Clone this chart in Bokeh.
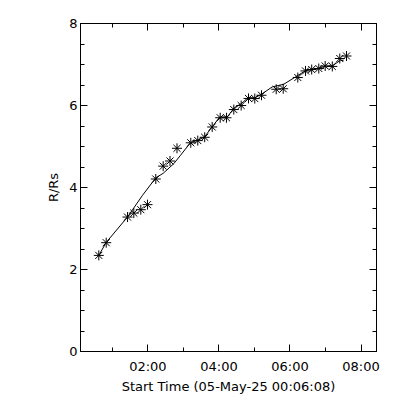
from bokeh.plotting import figure
from bokeh.models import Range1d, LinearAxis, FixedTicker
from bokeh.embed import file_html
from bokeh.resources import INLINE

# Time in hours (from 00:00 of 05-May-25); start time 00:06:08
time_h = [0.617, 0.826, 1.425, 1.603, 1.800, 1.988, 2.222, 2.430, 2.622, 2.819,
          3.207, 3.404, 3.599, 3.810, 4.035, 4.212, 4.418, 4.626, 4.832, 5.009,
          5.198, 5.612, 5.809, 6.220, 6.437, 6.611, 6.811, 6.991, 7.191, 7.402, 7.591]
r_rs = [2.344, 2.654, 3.279, 3.376, 3.459, 3.582, 4.207, 4.521, 4.646, 4.956,
        5.090, 5.144, 5.225, 5.476, 5.701, 5.701, 5.901, 5.999, 6.172, 6.169,
        6.250, 6.396, 6.409, 6.682, 6.843, 6.877, 6.902, 6.963, 6.953, 7.146, 7.207]

# Smoothed curve
fit_t = [0.617, 0.826, 1.425, 1.848, 2.222, 2.430, 2.729, 2.918, 3.199, 3.404,
         3.593, 3.810, 4.024, 4.232, 4.438, 4.626, 4.818, 5.009, 5.198, 5.499,
         5.826, 6.155, 6.437, 6.605, 6.802, 7.000, 7.197, 7.422, 7.506]
fit_r = [2.344, 2.661, 3.279, 3.809, 4.236, 4.346, 4.582, 4.785, 5.095, 5.151,
         5.232, 5.481, 5.720, 5.720, 5.950, 6.042, 6.189, 6.189, 6.274, 6.453,
         6.519, 6.697, 6.848, 6.885, 6.909, 6.958, 6.970, 7.104, 7.092]

x_ticks = [2, 4, 6, 8]
x_tick_labels = {2: "02:00", 4: "04:00", 6: "06:00", 8: "08:00"}
x_minor = [1, 2, 3, 4, 5, 6, 7, 8]
y_ticks = [0, 2, 4, 6, 8]
y_minor = [i * 0.5 for i in range(17)]

x_start = 0.1022
x_end = 0.1022 + 30000 / 3600.0

FONT = "DejaVu Sans"
FS = "13px"

p = figure(frame_width=296, frame_height=328,
           min_border_left=80, min_border_right=16,
           min_border_top=23, min_border_bottom=41,
           x_range=Range1d(x_start, x_end), y_range=Range1d(0, 8),
           output_backend="svg", toolbar_location=None,
           background_fill_color="white", border_fill_color="white")
p.xgrid.visible = False
p.ygrid.visible = False
p.outline_line_color = "black"

def style(ax, ticks, minor):
    ax.ticker = FixedTicker(ticks=ticks, minor_ticks=minor)
    ax.axis_line_color = "black"
    ax.major_tick_line_color = "black"
    ax.minor_tick_line_color = "black"
    ax.major_tick_in = 7
    ax.major_tick_out = 0
    ax.minor_tick_in = 4
    ax.minor_tick_out = 0
    ax.major_label_text_font = FONT
    ax.major_label_text_font_size = FS
    ax.major_label_text_color = "black"
    ax.axis_label_text_font = FONT
    ax.axis_label_text_font_size = FS
    ax.axis_label_text_font_style = "normal"
    ax.axis_label_text_color = "black"

xa = p.xaxis[0]
style(xa, x_ticks, x_minor)
xa.major_label_overrides = x_tick_labels
xa.axis_label = "Start Time (05-May-25 00:06:08)"
xa.major_label_standoff = 7
xa.axis_label_standoff = 2

ya = p.yaxis[0]
style(ya, y_ticks, y_minor)
ya.axis_label = "R/Rs"
ya.major_label_standoff = 3
ya.axis_label_standoff = 5

top = LinearAxis()
style(top, x_ticks, x_minor)
top.major_label_overrides = {t: "" for t in x_ticks}
top.major_label_standoff = 0
p.add_layout(top, "above")

right = LinearAxis()
style(right, y_ticks, y_minor)
right.major_label_overrides = {t: "" for t in y_ticks}
right.major_label_standoff = 0
p.add_layout(right, "right")

p.line(fit_t, fit_r, line_color="black", line_width=1)
p.scatter(time_h, r_rs, marker="asterisk", size=10, line_color="black", line_width=1)

open("out.html", "w").write(file_html(p, INLINE))
